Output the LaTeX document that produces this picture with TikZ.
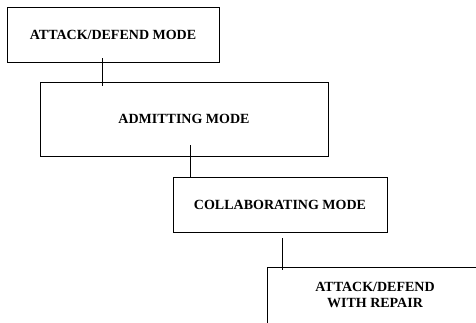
\documentclass[tikz,border=0pt]{standalone}
\usepackage{fontspec}
\setmainfont{Liberation Serif}
\begin{document}
\begin{tikzpicture}[x=1pt,y=-1pt,
  modebox/.style={draw=black,line width=0.8pt,inner sep=0pt,align=center,
    font=\bfseries\fontsize{14}{16}\selectfont},
  link/.style={draw=black,line width=0.8pt}]
\clip (0,0) rectangle (476,322);
\fill[white] (0,0) rectangle (476,322);
\node[modebox,minimum width=212pt,minimum height=55pt] (b1) at (113,34.5) {ATTACK/DEFEND MODE};
\node[modebox,minimum width=288pt,minimum height=74pt] (b2) at (184,119) {ADMITTING MODE};
\node[modebox,minimum width=214pt,minimum height=55pt] (b3) at (280,205.2) {COLLABORATING MODE};
\node[modebox,minimum width=216pt,minimum height=70pt,anchor=north west] (b4) at (267,267) {};
\node[font=\bfseries\fontsize{14}{16}\selectfont,align=center] (t4) at (375,295) {ATTACK/DEFEND\\WITH REPAIR};
\coordinate (c1) at (102,0);
\coordinate (c2) at (190,0);
\coordinate (c3) at (282,0);
\draw[link] ([yshift=4pt]b1.south -| c1) -- ([yshift=-4pt]b2.north -| c1);
\draw[link] ([yshift=11pt]b2.south -| c2) -- (b3.north -| c2);
\draw[link] ([yshift=-5pt]b3.south -| c3) -- ([yshift=-3pt]b4.north -| c3);
\end{tikzpicture}
\end{document}
